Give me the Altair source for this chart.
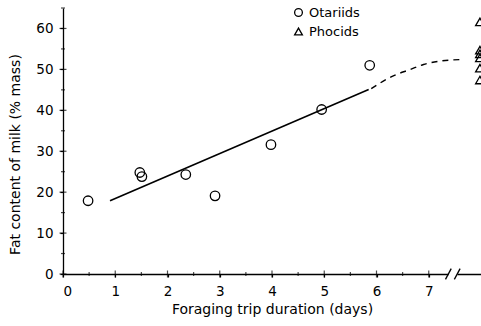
import altair as alt
import pandas as pd

FONT = "DejaVu Sans"

# Otariids (circles)
ot_x = [0.48, 1.47, 1.51, 2.35, 2.91, 3.98, 4.95, 5.87]
ot_y = [17.9, 24.8, 23.8, 24.3, 19.1, 31.6, 40.2, 51.0]
# Phocids (triangles), plotted at the broken end of the axis
ph_x = [7.98, 7.98, 7.98, 7.98, 7.98, 7.98]
ph_y = [61.6, 54.7, 53.8, 52.8, 50.3, 47.4]

# regression line (solid) and extrapolation (dashed)
fit_x = [0.9, 5.85]
fit_y = [17.9, 45.1]
ext_x = [5.9, 6.3, 6.65, 6.9, 7.2, 7.6]
ext_y = [45.3, 48.3, 50.0, 51.2, 52.0, 52.4]

x_major = [0, 1, 2, 3, 4, 5, 6, 7]
x_minor = [0.5, 1.5, 2.5, 3.5, 4.5, 5.5, 6.5]
y_major = [0, 10, 20, 30, 40, 50, 60]
y_minor = [5, 15, 25, 35, 45, 55, 65]

# axis break marks
brk_x1 = [7.32, 7.49]
brk_x2 = [7.43, 7.60]
brk_y1 = [-1.3, -1.3]
brk_y2 = [1.3, 1.3]
gap_x = [7.38]
gap_x2 = [7.55]

xs = alt.Scale(domain=[0, 8], nice=False, zero=False)
ys = alt.Scale(domain=[0, 65], nice=False, zero=False)

pts = pd.DataFrame({
    "x": ot_x + ph_x,
    "y": ot_y + ph_y,
    "g": ["Otariids"] * len(ot_x) + ["Phocids"] * len(ph_x),
})

xax = alt.Axis(values=x_major, format="d", tickSize=3, labelPadding=7,
               title="Foraging trip duration (days)", titlePadding=5,
               grid=False)
yax = alt.Axis(values=y_major, format="d", tickSize=3, labelPadding=7,
               title="Fat content of milk (% mass)", titlePadding=13,
               titleY=146, grid=False)

shape_scale = alt.Scale(domain=["Otariids", "Phocids"], range=["circle", "triangle-up"])

points_ot = alt.Chart(pts[pts.g == "Otariids"]).mark_point(
    filled=False, stroke="black", strokeWidth=1.3, size=90, opacity=1
).encode(
    x=alt.X("x:Q", scale=xs, axis=xax),
    y=alt.Y("y:Q", scale=ys, axis=yax),
    shape=alt.Shape("g:N", scale=shape_scale,
                    legend=alt.Legend(title=None, orient="none", legendX=229, legendY=-2,
                                      padding=0, symbolSize=60, symbolStrokeWidth=1.3,
                                      symbolStrokeColor="black", labelFontSize=13,
                                      labelFont=FONT, labelOffset=4, rowPadding=5,
                                      labelColor="black")),
)

points_ph = alt.Chart(pts[pts.g == "Phocids"]).mark_point(
    filled=False, stroke="black", strokeWidth=1.3, size=75, opacity=1, clip=True
).encode(
    x=alt.X("x:Q", scale=xs),
    y=alt.Y("y:Q", scale=ys),
    shape=alt.Shape("g:N", scale=shape_scale),
)

fit = alt.Chart(pd.DataFrame({"x": fit_x, "y": fit_y})).mark_line(
    color="black", strokeWidth=1.6
).encode(x=alt.X("x:Q", scale=xs), y=alt.Y("y:Q", scale=ys))

ext = alt.Chart(pd.DataFrame({"x": ext_x, "y": ext_y})).mark_line(
    color="black", strokeWidth=1.4, strokeDash=[6, 5], interpolate="monotone"
).encode(x=alt.X("x:Q", scale=xs), y=alt.Y("y:Q", scale=ys))

xt_major = alt.Chart(pd.DataFrame({"x": x_major, "y": [0] * len(x_major)})).mark_tick(
    orient="vertical", size=7, thickness=1.2, color="black"
).encode(x=alt.X("x:Q", scale=xs), y=alt.Y("y:Q", scale=ys))
xt_minor = alt.Chart(pd.DataFrame({"x": x_minor, "y": [0] * len(x_minor)})).mark_tick(
    orient="vertical", size=4, thickness=1.2, color="black"
).encode(x=alt.X("x:Q", scale=xs), y=alt.Y("y:Q", scale=ys))
yt_major = alt.Chart(pd.DataFrame({"y": y_major, "x": [0] * len(y_major)})).mark_tick(
    orient="horizontal", size=7, thickness=1.2, color="black"
).encode(x=alt.X("x:Q", scale=xs), y=alt.Y("y:Q", scale=ys))
yt_minor = alt.Chart(pd.DataFrame({"y": y_minor, "x": [0] * len(y_minor)})).mark_tick(
    orient="horizontal", size=4, thickness=1.2, color="black"
).encode(x=alt.X("x:Q", scale=xs), y=alt.Y("y:Q", scale=ys))

gap = alt.Chart(pd.DataFrame({"x": gap_x, "x2": gap_x2, "y": [0]})).mark_rule(
    color="white", strokeWidth=4
).encode(x=alt.X("x:Q", scale=xs), x2="x2:Q", y=alt.Y("y:Q", scale=ys))

brk = alt.Chart(pd.DataFrame({"x": brk_x1, "x2": brk_x2, "y": brk_y1, "y2": brk_y2})).mark_rule(
    color="black", strokeWidth=1.3
).encode(x=alt.X("x:Q", scale=xs), x2="x2:Q", y=alt.Y("y:Q", scale=ys), y2="y2:Q")

chart = alt.layer(
    points_ot, points_ph, fit, ext, xt_major, xt_minor, yt_major, yt_minor, gap, brk
).properties(
    width=418, height=266,
    padding={"left": 63, "top": 8, "right": 0, "bottom": 52},
    autosize=alt.AutoSizeParams(type="none"),
    background="white",
).configure_view(stroke=None).configure_axis(
    domainColor="black", domainWidth=1.3, tickColor="black", tickWidth=1.2,
    labelFont=FONT, titleFont=FONT, labelFontSize=13.5, titleFontSize=14,
    labelColor="black", titleColor="black", titleFontWeight="normal",
)

chart.save("out.html", embed_options={"renderer": "svg", "actions": False})
